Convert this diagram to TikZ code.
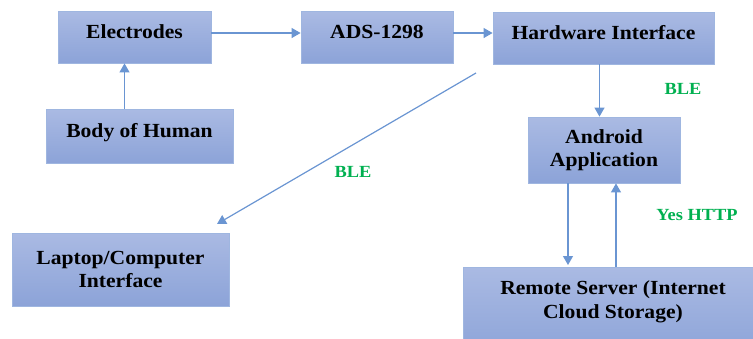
\documentclass[tikz,border=0pt]{standalone}
\usepackage{fontspec}
\setmainfont[FakeStretch=1.08]{Liberation Serif}
\usetikzlibrary{arrows.meta}
\usetikzlibrary{positioning}

\definecolor{boxtop}{HTML}{AABAE3}
\definecolor{boxbot}{HTML}{8CA3D8}
\definecolor{boxline}{HTML}{9FB6E0}
\definecolor{linkblue}{HTML}{6A95D2}
\definecolor{blegreen}{HTML}{00B050}

\begin{document}
\begin{tikzpicture}[x=1pt,y=-1pt,
  block/.style={rectangle,draw=boxline,line width=0.8pt,top color=boxtop,bottom color=boxbot,
    font=\fontsize{20}{23.5}\selectfont\bfseries,align=center,inner sep=0pt},
  oneline/.style={text height=14pt,text depth=12pt},
  link/.style={draw=linkblue,line width=1.2pt,-{Triangle[length=9pt,width=10pt]}},
  tag/.style={font=\fontsize{17}{20}\selectfont\bfseries,text=blegreen}]
\useasboundingbox (0,0) rectangle (753,338);

\node[block,oneline,minimum width=153pt,minimum height=52pt] (elec) at (134.5,37) {Electrodes};
\node[block,oneline,minimum width=152pt,minimum height=52pt] (ads) at (377,37) {ADS-1298};
\node[block,oneline,minimum width=221pt,minimum height=52pt] (hw) at (603.5,38) {Hardware Interface};
\node[block,oneline,minimum width=187pt,minimum height=54pt] (body) at (139.5,136) {Body of Human};
\node[block,minimum width=152pt,minimum height=66pt] (andr) at (604,150) {Android\\Application};
\node[block,minimum width=217pt,minimum height=73pt] (lap) at (120.5,269.5) {Laptop/Computer\\Interface};
% server box runs off the page edge
\node[block,minimum width=320pt,minimum height=90pt,anchor=north west] (srv) at (463,267) {};
\node[font=\fontsize{20}{23.5}\selectfont\bfseries,align=center] (srvtext) at (613,302) {Remote Server (Internet\\Cloud Storage)};

\node[tag] (ble1) at (683,89) {BLE};
\node[tag] (ble2) at (353,172) {BLE};
\node[tag] (http) at (697,215) {Yes HTTP};

\coordinate (bleA) at (476,73);
\coordinate (bleB) at (217,224);

\draw[link] ([yshift=4pt]elec.east) -- ([yshift=4pt]ads.west);
\draw[link] ([yshift=4pt]ads.east) -- ([yshift=5pt]hw.west);
\draw[link] ([xshift=-10pt]body.north -| elec.south) -- ([xshift=-10pt]elec.south);
\draw[link] ([xshift=-4pt]hw.south) -- ([xshift=-4pt]hw.south |- andr.north);
\draw[link] ([xshift=-36pt]andr.south) -- ([xshift=-36pt,yshift=2pt]andr.south |- srv.north);
\draw[link] ([xshift=12pt]andr.south |- srv.north) -- ([xshift=12pt]andr.south);
\draw[link] (bleA) -- (bleB);

\end{tikzpicture}
\end{document}
